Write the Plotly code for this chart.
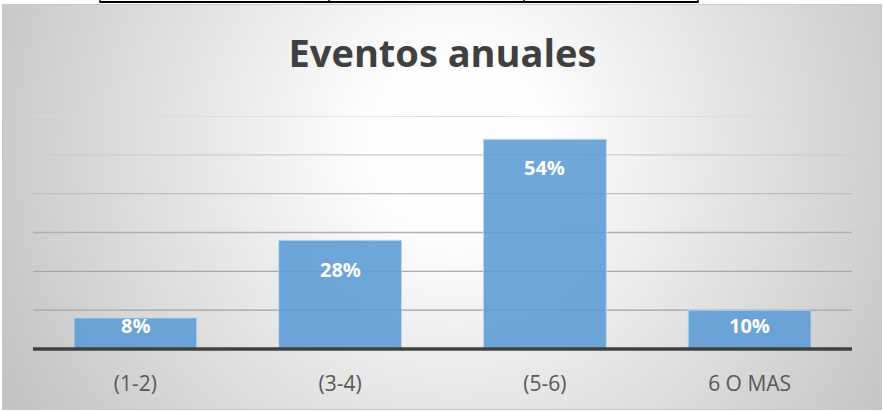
import base64
import plotly.graph_objects as go

# ---- data ----
categories = ["(1-2)", "(3-4)", "(5-6)", "6 O MAS"]
values = [8, 28, 54, 10]          # percent
grid_levels = [10, 20, 30, 40, 50, 60]
title_text = "Eventos anuales"

# ---- style ----
W, H = 883, 412
L, R, T, B = 33, 852, 116, 349     # plot area in pixels
label_drop = [8, 29, 28, 15]        # px below bar end for value labels
grid_colors = ["#a3a3a3", "#a8a8a8", "#b0b0b0", "#bcbcbc", "#cccccc", "#dadada"]
FONT = "Open Sans"


def px_x(x):
    return (x - L) / (R - L)


def px_y(y):
    return (B - y) / (B - T)


# radial gradient background as SVG
svg = f'''<svg xmlns="http://www.w3.org/2000/svg" width="880" height="406" viewBox="0 0 880 406" preserveAspectRatio="none">
<defs><radialGradient id="g" gradientUnits="userSpaceOnUse" cx="455" cy="140" r="520">
<stop offset="0" stop-color="#ffffff"/><stop offset="0.18" stop-color="#fdfdfd"/>
<stop offset="1" stop-color="#c2c2c2"/></radialGradient></defs>
<rect x="0" y="0" width="880" height="406" fill="url(#g)"/></svg>'''
src = "data:image/svg+xml;base64," + base64.b64encode(svg.encode()).decode()

fig = go.Figure()
fig.add_trace(go.Bar(
    x=categories, y=values,
    marker=dict(color="rgba(91,155,213,0.88)",
                line=dict(color="rgba(190,215,240,0.9)", width=1)),
    hoverinfo="skip",
))

shapes = []
for lvl, c in zip(grid_levels, grid_colors):
    shapes.append(dict(type="line", xref="paper", yref="y", x0=0, x1=1, y0=lvl, y1=lvl,
                       line=dict(color=c, width=1.3), layer="below"))
# category axis line (paper ref so it is not clipped)
shapes.append(dict(type="line", xref="paper", yref="paper", x0=0, x1=1, y0=0, y1=0,
                   line=dict(color="#404040", width=3.5), layer="above"))
# chart area border
shapes.append(dict(type="rect", xref="paper", yref="paper",
                   x0=px_x(2.5), x1=px_x(881.5), y0=px_y(409.5), y1=px_y(4.5),
                   line=dict(color="#c8c8c8", width=1), layer="below"))
# table border fragment at top
shapes.append(dict(type="line", xref="paper", yref="paper",
                   x0=px_x(100), x1=px_x(698), y0=px_y(2), y1=px_y(2),
                   line=dict(color="#000000", width=2)))
for vx in [100, 329, 524, 698]:
    shapes.append(dict(type="line", xref="paper", yref="paper",
                       x0=px_x(vx), x1=px_x(vx), y0=px_y(0), y1=px_y(3),
                       line=dict(color="#000000", width=1.5)))

annotations = []
for c, v, d in zip(categories, values, label_drop):
    annotations.append(dict(x=c, y=v, xref="x", yref="y", text=f"{v}%", showarrow=False,
                            yshift=-d, yanchor="middle",
                            font=dict(family=FONT, size=20, color="#ffffff", weight="bold")))

fig.update_layout(
    width=W, height=H,
    margin=dict(l=L, r=W - R, t=T, b=H - B, pad=0),
    paper_bgcolor="#ffffff", plot_bgcolor="rgba(0,0,0,0)",
    bargap=0.4, showlegend=False,
    title=dict(text=title_text, x=0.5, xref="paper", xanchor="center",
               y=1 - 54 / H, yref="container", yanchor="middle",
               font=dict(family=FONT, size=38, color="#404040", weight="bold")),
    xaxis=dict(type="category", showgrid=False, zeroline=False, showline=False,
               ticks="outside", ticklen=16, tickcolor="rgba(0,0,0,0)",
               tickfont=dict(family=FONT, size=21, color="#595959")),
    yaxis=dict(range=[0, 60], showgrid=False, zeroline=False, showline=False,
               showticklabels=False),
    shapes=shapes, annotations=annotations,
    images=[dict(source=src, xref="paper", yref="paper", x=px_x(2), y=px_y(4),
                 sizex=880 / (R - L), sizey=406 / (B - T), xanchor="left", yanchor="top",
                 sizing="stretch", layer="below")],
)

fig.write_html("out.html")
